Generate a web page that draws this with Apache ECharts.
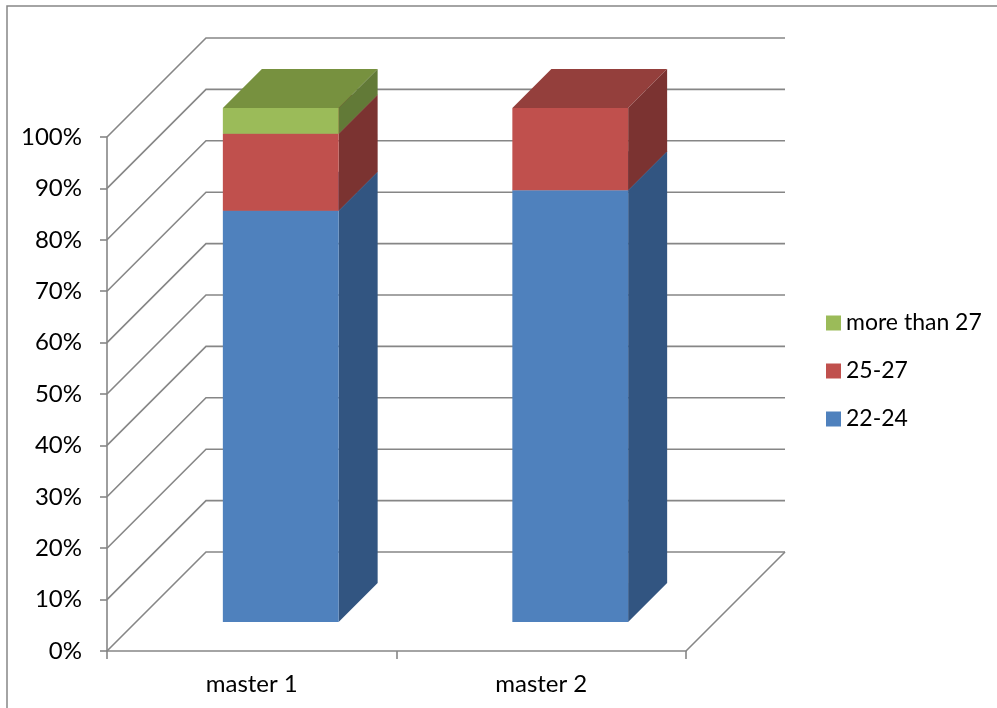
<!DOCTYPE html>
<html>
<head>
<meta charset="utf-8">
<style>
  html, body { margin: 0; padding: 0; background: #ffffff; }
  #chart { width: 997px; height: 708px; }
</style>
<script src="https://cdn.jsdelivr.net/npm/echarts@6/dist/echarts.min.js"></script>
</head>
<body>
<div id="chart"></div>
<script>
// Age groups per master programme, 100% stacked
const categories = ['master 1', 'master 2'];
const seriesNames = ['22-24', '25-27', 'more than 27'];
const share2224 = [80, 84];
const share2527 = [15, 16];
const shareOver27 = [5, 0];
const yTicks = [0, 10, 20, 30, 40, 50, 60, 70, 80, 90, 100];

// face colours for each series: front, side, top
const faceColors = [
  ['#4F81BD', '#325581', '#3F6797'],
  ['#C0504D', '#7B3331', '#943F3C'],
  ['#9BBB59', '#627A37', '#77913F']
];

const FONT = 'Lato, "Liberation Sans", sans-serif';
const LINE = '#868686';
const DEPTH = 99;        // depth of the floor / walls in pixels
const BAR_FRONT = 29;    // distance of the column front from the front plane
const BAR_DEPTH = 39;    // depth of the columns
const BAR_WIDTH = 0.4;   // share of the category band

const values = [share2224, share2527, shareOver27];

// cumulative [category, start, end] triples per series
const stacks = values.map(function () { return []; });
categories.forEach(function (c, ci) {
  let acc = 0;
  values.forEach(function (arr, si) {
    stacks[si].push([ci, acc, acc + arr[ci]]);
    acc += arr[ci];
  });
});

function wallItem(params, api) {
  const cs = params.coordSys;
  const v = api.value(1);
  const y = api.coord([0, v])[1];
  const x0 = cs.x, x1 = cs.x + cs.width;
  const style = { stroke: LINE, lineWidth: 1.6, fill: null };
  const children = [{
    type: 'polyline',
    shape: { points: [[x0, y], [x0 + DEPTH, y - DEPTH], [x1 + DEPTH, y - DEPTH]] },
    style: style
  }];
  if (v === 0) {
    children.push({
      type: 'line',
      shape: { x1: x1, y1: y, x2: x1 + DEPTH, y2: y - DEPTH },
      style: style
    });
  }
  return { type: 'group', children: children };
}

function barRenderer(si) {
  return function (params, api) {
    const cat = api.value(0), start = api.value(1), end = api.value(2);
    if (!(end > start)) return null;
    const c0 = api.coord([cat, start]);
    const c1 = api.coord([cat, end]);
    const bw = api.size([1, 0])[0] * BAR_WIDTH;
    const xL = c0[0] - bw / 2 + BAR_FRONT;
    const xR = xL + bw;
    const yB = c0[1] - BAR_FRONT;
    const yT = c1[1] - BAR_FRONT;
    const d = BAR_DEPTH;
    const col = faceColors[si];
    return {
      type: 'group',
      children: [
        { type: 'polygon', shape: { points: [[xL, yT], [xR, yT], [xR + d, yT - d], [xL + d, yT - d]] }, style: { fill: col[2] } },
        { type: 'polygon', shape: { points: [[xR, yT], [xR + d, yT - d], [xR + d, yB - d], [xR, yB]] }, style: { fill: col[1] } },
        { type: 'rect', shape: { x: xL, y: yT, width: bw, height: yB - yT }, style: { fill: col[0] } }
      ]
    };
  };
}

const series = [{
  name: 'walls',
  type: 'custom',
  silent: true,
  z: 1,
  renderItem: wallItem,
  data: yTicks.map(function (t) { return [0, t]; }),
  encode: { x: 0, y: 1 }
}];
seriesNames.forEach(function (name, si) {
  series.push({
    name: name,
    type: 'custom',
    z: 2,
    itemStyle: { color: faceColors[si][0] },
    renderItem: barRenderer(si),
    data: stacks[si],
    encode: { x: 0, y: [1, 2] }
  });
});

const chart = echarts.init(document.getElementById('chart'), null, { renderer: 'canvas' });
chart.setOption({
  animation: false,
  backgroundColor: '#ffffff',
  textStyle: { fontFamily: FONT },
  graphic: [{
    type: 'rect',
    shape: { x: 7, y: 6, width: 1000, height: 720 },
    style: { fill: null, stroke: '#868686', lineWidth: 1.5 },
    silent: true
  }],
  grid: { left: 107, right: 311, top: 137, bottom: 57 },
  xAxis: {
    type: 'category',
    data: categories,
    boundaryGap: true,
    axisLine: { show: true, lineStyle: { color: LINE, width: 1.6 } },
    axisTick: { show: true, length: 8, lineStyle: { color: LINE, width: 1.6 } },
    axisLabel: { color: '#000', fontSize: 24, fontFamily: FONT, margin: 21 },
    splitLine: { show: false }
  },
  yAxis: {
    type: 'value',
    min: 0, max: 100, interval: 10,
    axisLine: { show: true, lineStyle: { color: LINE, width: 1.6 } },
    axisTick: { show: true, length: 7, lineStyle: { color: LINE, width: 1.6 } },
    axisLabel: { color: '#000', fontSize: 24, fontFamily: FONT, margin: 25, formatter: '{value}%' },
    splitLine: { show: false }
  },
  legend: {
    orient: 'vertical',
    left: 821,
    top: 306,
    itemWidth: 15,
    itemHeight: 15,
    itemGap: 24,
    icon: 'rect',
    data: ['more than 27', '25-27', '22-24'],
    textStyle: { color: '#000', fontSize: 23, fontFamily: FONT, lineHeight: 24 }
  },
  series: series
});
</script>
</body>
</html>
